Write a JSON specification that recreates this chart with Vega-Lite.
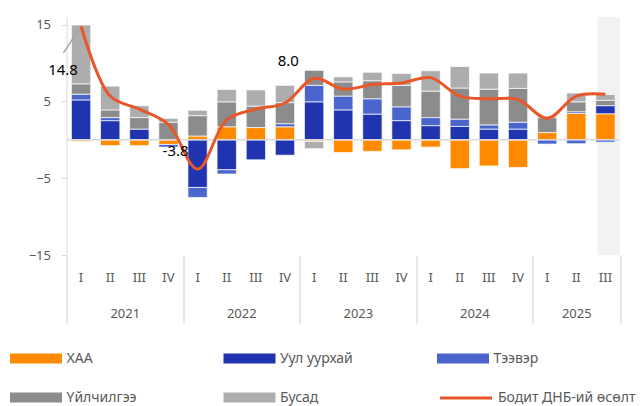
{
  "$schema": "https://vega.github.io/schema/vega-lite/v6.json",
  "width": 553.5,
  "height": 238,
  "autosize": {"type": "none"},
  "padding": {"left": 66.5, "top": 17, "right": 21, "bottom": 151},
  "background": "white",
  "config": {"view": {"stroke": null}, "font": "Noto Sans", "axis": {"labelFont": "Noto Sans"}, "legend": {"labelFont": "Noto Sans"}},
  "datasets": {
    "highlight": [{"q": "2025-III"}],
    "zero": [{"v": 0}],
    "bars": [
      {"q": "2021-I", "series": "ХАА", "value": -0.2}, {"q": "2021-I", "series": "Уул уурхай", "value": 5.2}, {"q": "2021-I", "series": "Тээвэр", "value": 0.75}, {"q": "2021-I", "series": "Үйлчилгээ", "value": 1.35}, {"q": "2021-I", "series": "Бусад", "value": 7.65},
      {"q": "2021-II", "series": "ХАА", "value": -0.75}, {"q": "2021-II", "series": "Уул уурхай", "value": 2.5}, {"q": "2021-II", "series": "Тээвэр", "value": 0.4}, {"q": "2021-II", "series": "Үйлчилгээ", "value": 1.0}, {"q": "2021-II", "series": "Бусад", "value": 3.1},
      {"q": "2021-III", "series": "ХАА", "value": -0.75}, {"q": "2021-III", "series": "Уул уурхай", "value": 1.4}, {"q": "2021-III", "series": "Үйлчилгээ", "value": 1.5}, {"q": "2021-III", "series": "Бусад", "value": 1.55},
      {"q": "2021-IV", "series": "ХАА", "value": -0.6}, {"q": "2021-IV", "series": "Тээвэр", "value": -0.35}, {"q": "2021-IV", "series": "Үйлчилгээ", "value": 2.3}, {"q": "2021-IV", "series": "Бусад", "value": 0.5},
      {"q": "2022-I", "series": "ХАА", "value": 0.5}, {"q": "2022-I", "series": "Уул уурхай", "value": -6.2}, {"q": "2022-I", "series": "Тээвэр", "value": -1.3}, {"q": "2022-I", "series": "Үйлчилгээ", "value": 2.65}, {"q": "2022-I", "series": "Бусад", "value": 0.7},
      {"q": "2022-II", "series": "ХАА", "value": 1.7}, {"q": "2022-II", "series": "Уул уурхай", "value": -3.9}, {"q": "2022-II", "series": "Тээвэр", "value": -0.55}, {"q": "2022-II", "series": "Үйлчилгээ", "value": 3.25}, {"q": "2022-II", "series": "Бусад", "value": 1.6},
      {"q": "2022-III", "series": "ХАА", "value": 1.6}, {"q": "2022-III", "series": "Уул уурхай", "value": -2.6}, {"q": "2022-III", "series": "Үйлчилгээ", "value": 2.8}, {"q": "2022-III", "series": "Бусад", "value": 2.1},
      {"q": "2022-IV", "series": "ХАА", "value": 1.7}, {"q": "2022-IV", "series": "Уул уурхай", "value": -2.0}, {"q": "2022-IV", "series": "Тээвэр", "value": 0.4}, {"q": "2022-IV", "series": "Үйлчилгээ", "value": 2.75}, {"q": "2022-IV", "series": "Бусад", "value": 2.25},
      {"q": "2023-I", "series": "ХАА", "value": -0.2}, {"q": "2023-I", "series": "Уул уурхай", "value": 4.95}, {"q": "2023-I", "series": "Тээвэр", "value": 2.15}, {"q": "2023-I", "series": "Үйлчилгээ", "value": 1.95}, {"q": "2023-I", "series": "Бусад", "value": -0.95},
      {"q": "2023-II", "series": "ХАА", "value": -1.65}, {"q": "2023-II", "series": "Уул уурхай", "value": 3.9}, {"q": "2023-II", "series": "Тээвэр", "value": 1.8}, {"q": "2023-II", "series": "Үйлчилгээ", "value": 1.85}, {"q": "2023-II", "series": "Бусад", "value": 0.65},
      {"q": "2023-III", "series": "ХАА", "value": -1.5}, {"q": "2023-III", "series": "Уул уурхай", "value": 3.35}, {"q": "2023-III", "series": "Тээвэр", "value": 2.0}, {"q": "2023-III", "series": "Үйлчилгээ", "value": 2.35}, {"q": "2023-III", "series": "Бусад", "value": 1.1},
      {"q": "2023-IV", "series": "ХАА", "value": -1.3}, {"q": "2023-IV", "series": "Уул уурхай", "value": 2.5}, {"q": "2023-IV", "series": "Тээвэр", "value": 1.8}, {"q": "2023-IV", "series": "Үйлчилгээ", "value": 2.8}, {"q": "2023-IV", "series": "Бусад", "value": 1.55},
      {"q": "2024-I", "series": "ХАА", "value": -0.95}, {"q": "2024-I", "series": "Уул уурхай", "value": 1.85}, {"q": "2024-I", "series": "Тээвэр", "value": 1.05}, {"q": "2024-I", "series": "Үйлчилгээ", "value": 3.45}, {"q": "2024-I", "series": "Бусад", "value": 2.65},
      {"q": "2024-II", "series": "ХАА", "value": -3.75}, {"q": "2024-II", "series": "Уул уурхай", "value": 1.75}, {"q": "2024-II", "series": "Тээвэр", "value": 0.95}, {"q": "2024-II", "series": "Үйлчилгээ", "value": 4.05}, {"q": "2024-II", "series": "Бусад", "value": 2.8},
      {"q": "2024-III", "series": "ХАА", "value": -3.4}, {"q": "2024-III", "series": "Уул уурхай", "value": 1.4}, {"q": "2024-III", "series": "Тээвэр", "value": 0.55}, {"q": "2024-III", "series": "Үйлчилгээ", "value": 4.65}, {"q": "2024-III", "series": "Бусад", "value": 2.1},
      {"q": "2024-IV", "series": "ХАА", "value": -3.6}, {"q": "2024-IV", "series": "Уул уурхай", "value": 1.4}, {"q": "2024-IV", "series": "Тээвэр", "value": 0.9}, {"q": "2024-IV", "series": "Үйлчилгээ", "value": 4.4}, {"q": "2024-IV", "series": "Бусад", "value": 2.0},
      {"q": "2025-I", "series": "ХАА", "value": 0.95}, {"q": "2025-I", "series": "Тээвэр", "value": -0.55}, {"q": "2025-I", "series": "Үйлчилгээ", "value": 1.95}, {"q": "2025-I", "series": "Бусад", "value": 0.2},
      {"q": "2025-II", "series": "ХАА", "value": 3.45}, {"q": "2025-II", "series": "Уул уурхай", "value": 0.2}, {"q": "2025-II", "series": "Тээвэр", "value": -0.5}, {"q": "2025-II", "series": "Үйлчилгээ", "value": 1.3}, {"q": "2025-II", "series": "Бусад", "value": 1.15},
      {"q": "2025-III", "series": "ХАА", "value": 3.4}, {"q": "2025-III", "series": "Уул уурхай", "value": 1.05}, {"q": "2025-III", "series": "Тээвэр", "value": -0.3}, {"q": "2025-III", "series": "Үйлчилгээ", "value": 0.7}, {"q": "2025-III", "series": "Бусад", "value": 0.75}
    ],
    "gdp": [
      {"q": "2021-I", "gdp": 14.8}, {"q": "2021-II", "gdp": 5.7}, {"q": "2021-III", "gdp": 4.0}, {"q": "2021-IV", "gdp": 2.0},
      {"q": "2022-I", "gdp": -3.8}, {"q": "2022-II", "gdp": 2.6}, {"q": "2022-III", "gdp": 4.0}, {"q": "2022-IV", "gdp": 4.8},
      {"q": "2023-I", "gdp": 8.0}, {"q": "2023-II", "gdp": 6.6}, {"q": "2023-III", "gdp": 7.2}, {"q": "2023-IV", "gdp": 7.4},
      {"q": "2024-I", "gdp": 8.1}, {"q": "2024-II", "gdp": 5.7}, {"q": "2024-III", "gdp": 5.35}, {"q": "2024-IV", "gdp": 5.25},
      {"q": "2025-I", "gdp": 2.8}, {"q": "2025-II", "gdp": 5.7}, {"q": "2025-III", "gdp": 5.95}
    ]
  },
  "resolve": {"axis": {"x": "independent"}},
  "layer": [
    {
      "data": {"name": "highlight"},
      "mark": {"type": "bar", "color": "#f2f2f2", "width": {"band": 0.77}, "xOffset": 3},
      "encoding": {
        "x": {
          "field": "q", "type": "nominal", "sort": null,
          "scale": {"domain": ["2021-I","2021-II","2021-III","2021-IV","2022-I","2022-II","2022-III","2022-IV","2023-I","2023-II","2023-III","2023-IV","2024-I","2024-II","2024-III","2024-IV","2025-I","2025-II","2025-III"], "paddingInner": 0, "paddingOuter": 0},
          "axis": {"title": null, "labelExpr": "split(datum.value, '-')[1]", "ticks": false, "domain": false, "grid": false, "labelAngle": 0, "labelPadding": 16, "labelFontSize": 13, "labelColor": "#595959", "labelFont": "Noto Sans"}
        },
        "y": {"datum": 16, "type": "quantitative", "scale": {"domain": [-15, 16], "nice": false}},
        "y2": {"datum": -15}
      }
    },
    {
      "data": {"name": "bars"},
      "transform": [{"calculate": "indexof(['ХАА','Уул уурхай','Тээвэр','Үйлчилгээ','Бусад'], datum.series)", "as": "idx"}],
      "mark": {"type": "bar", "width": {"band": 0.663}, "stroke": "#ffffff", "strokeWidth": 0.7},
      "encoding": {
        "x": {"field": "q", "type": "nominal", "sort": null, "axis": null},
        "y": {
          "field": "value", "type": "quantitative", "stack": "zero",
          "scale": {"domain": [-15, 16], "nice": false},
          "axis": {"title": null, "values": [-15, -5, 5, 15], "grid": false, "domainColor": "#d9d9d9", "tickColor": "#d9d9d9", "tickSize": 5, "labelPadding": 11, "labelFontSize": 13, "labelColor": "#595959", "labelFont": "Noto Sans"}
        },
        "color": {
          "field": "series", "type": "nominal",
          "scale": {"domain": ["ХАА","Уул уурхай","Тээвэр","Үйлчилгээ","Бусад"], "range": ["#FF8A00","#2034B0","#4A66CC","#8B8C8B","#ADADAD"]},
          "legend": {"title": null, "orient": "none", "legendX": -56.5, "legendY": 315.5, "columns": 3, "direction": "horizontal", "symbolType": "M-1,-0.19H1V0.19H-1Z", "symbolSize": 2704, "symbolStrokeWidth": 0, "symbolOpacity": 1, "labelFontSize": 14, "labelColor": "#595959", "labelFont": "Noto Sans", "labelOffset": 4.5, "columnPadding": 83.5, "rowPadding": 6, "gridAlign": "all", "padding": 0, "labelLimit": 300}
        },
        "order": {"field": "idx", "type": "quantitative"}
      }
    },
    {
      "data": {"name": "zero"},
      "mark": {"type": "rule", "color": "#d9d9d9", "strokeWidth": 1.5},
      "encoding": {"y": {"field": "v", "type": "quantitative"}}
    },
    {
      "data": {"name": "gdp"},
      "transform": [{"filter": "datum.q == '2021-I'"}],
      "mark": {"type": "rule", "color": "#a6a6a6", "strokeWidth": 1.5},
      "encoding": {
        "x": {"field": "q", "type": "nominal", "sort": null, "axis": null, "bandPosition": 0.5},
        "x2": {"field": "q", "bandPosition": -0.11},
        "y": {"field": "gdp", "type": "quantitative"},
        "y2": {"datum": 11.3}
      }
    },
    {
      "data": {"name": "gdp"},
      "mark": {"type": "line", "interpolate": "catmull-rom", "strokeWidth": 3},
      "encoding": {
        "x": {
          "field": "q", "type": "nominal", "sort": null,
          "axis": {
            "orient": "bottom", "title": null, "domain": false, "grid": false, "labelAngle": 0,
            "labelExpr": "split(datum.value, '-')[1] == 'II' ? split(datum.value, '-')[0] : ''",
            "tickBand": "extent", "tickSize": 68, "tickColor": "#d9d9d9", "tickWidth": 1.3,
            "tickOpacity": {"condition": {"test": "datum.index < 0 || indexof(['2021-IV','2022-IV','2023-IV','2024-IV','2025-III'], datum.value) >= 0", "value": 1}, "value": 0},
            "labelOffset": {"condition": {"test": "datum.value == '2025-II'", "value": 0}, "value": 14.57},
            "labelPadding": -16, "labelFontSize": 13, "labelColor": "#595959", "labelFont": "Noto Sans", "labelOverlap": false
          }
        },
        "y": {"field": "gdp", "type": "quantitative"},
        "stroke": {
          "datum": "Бодит ДНБ-ий өсөлт",
          "scale": {"range": ["#E8562A"]},
          "legend": {"title": null, "orient": "none", "legendX": 372, "legendY": 353.5, "symbolType": "stroke", "symbolSize": 2704, "symbolStrokeWidth": 3, "labelFontSize": 14, "labelColor": "#595959", "labelFont": "Noto Sans", "labelOffset": 4.5, "padding": 0, "labelLimit": 300}
        }
      }
    },
    {
      "data": {"name": "gdp"},
      "transform": [{"filter": "datum.q == '2021-I'"}, {"calculate": "replace(format(datum.gdp, '.1f'), '−', '-')", "as": "lbl"}],
      "mark": {"type": "text", "dx": -18, "dy": 43.5, "fontSize": 15, "color": "#000000", "font": "Noto Sans"},
      "encoding": {"x": {"field": "q", "type": "nominal", "sort": null, "axis": null}, "y": {"field": "gdp", "type": "quantitative"}, "text": {"field": "lbl", "type": "nominal"}}
    },
    {
      "data": {"name": "gdp"},
      "transform": [{"filter": "datum.q == '2022-I'"}, {"calculate": "replace(format(datum.gdp, '.1f'), '−', '-')", "as": "lbl"}],
      "mark": {"type": "text", "dx": -22, "dy": -18, "fontSize": 15, "color": "#000000", "font": "Noto Sans"},
      "encoding": {"x": {"field": "q", "type": "nominal", "sort": null, "axis": null}, "y": {"field": "gdp", "type": "quantitative"}, "text": {"field": "lbl", "type": "nominal"}}
    },
    {
      "data": {"name": "gdp"},
      "transform": [{"filter": "datum.q == '2023-I'"}, {"calculate": "replace(format(datum.gdp, '.1f'), '−', '-')", "as": "lbl"}],
      "mark": {"type": "text", "dx": -25.8, "dy": -17.2, "fontSize": 15, "color": "#000000", "font": "Noto Sans"},
      "encoding": {"x": {"field": "q", "type": "nominal", "sort": null, "axis": null}, "y": {"field": "gdp", "type": "quantitative"}, "text": {"field": "lbl", "type": "nominal"}}
    }
  ]
}
